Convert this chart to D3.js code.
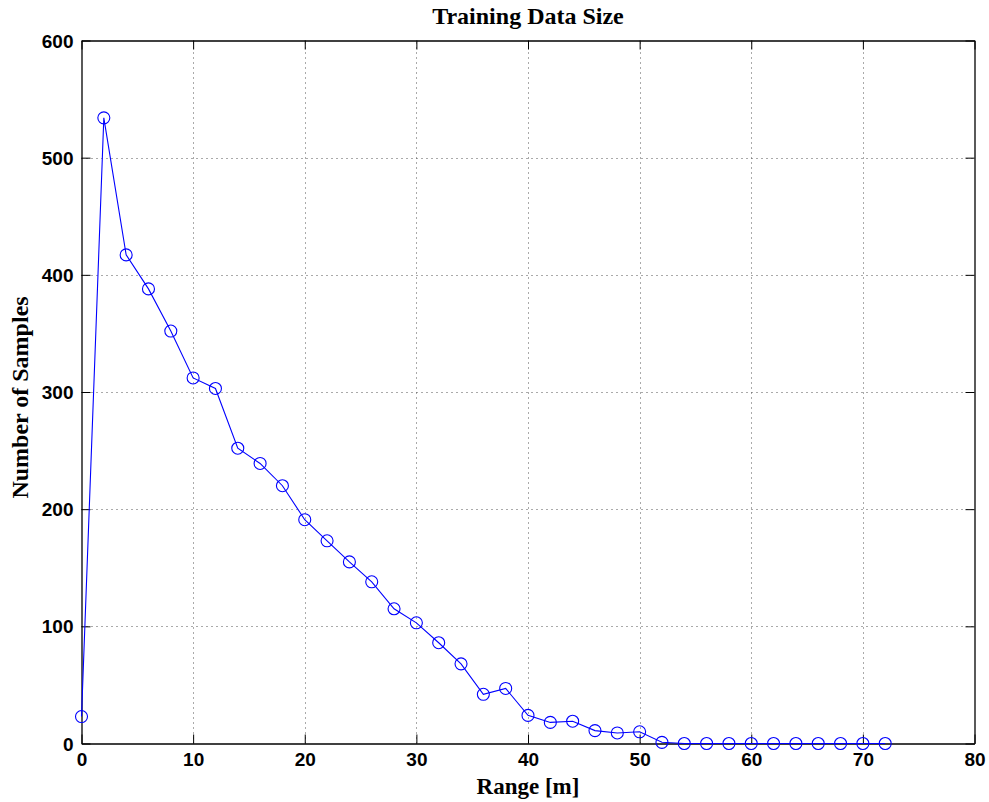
<!DOCTYPE html>
<html>
<head>
<meta charset="utf-8">
<script src="https://cdn.jsdelivr.net/npm/d3@7"></script>
<style>
  html, body { margin: 0; padding: 0; background: #fff; }
  svg { display: block; }
</style>
</head>
<body>
<svg id="chart" width="989" height="802"></svg>
<script>
// Range bins (m) and sample counts per bin
const rangeM = [0, 2, 4, 6, 8, 10, 12, 14, 16, 18, 20, 22, 24, 26, 28, 30, 32, 34, 36, 38,
                40, 42, 44, 46, 48, 50, 52, 54, 56, 58, 60, 62, 64, 66, 68, 70, 72];
const samples = [23, 534, 417, 388, 352, 312, 303, 252, 239, 220, 191, 173, 155, 138, 115, 103, 86, 68, 42, 47,
                 24, 18, 19, 11, 9, 10, 1, 0, 0, 0, 0, 0, 0, 0, 0, 0, 0];
const xTicks = [0, 10, 20, 30, 40, 50, 60, 70, 80];
const yTicks = [0, 100, 200, 300, 400, 500, 600];

const svg = d3.select("#chart");
const margin = { left: 81.5, right: 14.5, top: 40.5, bottom: 58.5 };
const W = 989, H = 802;
const x = d3.scaleLinear().domain([0, 80]).range([margin.left, W - margin.right]);
const y = d3.scaleLinear().domain([0, 600]).range([H - margin.bottom, margin.top]);

const tickFont = "'Liberation Sans', Arial, Helvetica, sans-serif";
const labelFont = "'Liberation Serif', 'Times New Roman', serif";

// Dotted grid
const grid = svg.append("g").attr("stroke", "#555").attr("stroke-width", 1)
  .attr("stroke-dasharray", "1,4");
grid.selectAll("line.vx").data(xTicks.slice(1, -1)).join("line")
  .attr("x1", d => Math.round(x(d)) + 0.5).attr("x2", d => Math.round(x(d)) + 0.5)
  .attr("y1", y(0)).attr("y2", y(600));
grid.selectAll("line.hy").data(yTicks.slice(1, -1)).join("line")
  .attr("y1", d => Math.round(y(d)) + 0.5).attr("y2", d => Math.round(y(d)) + 0.5)
  .attr("x1", x(0)).attr("x2", x(80));

// Axes with inward ticks on all four sides
const tl = 9;
const axB = svg.append("g").attr("transform", `translate(0,${y(0)})`)
  .call(d3.axisBottom(x).tickValues(xTicks).tickSizeInner(-tl).tickSizeOuter(0).tickPadding(9));
const axT = svg.append("g").attr("transform", `translate(0,${y(600)})`)
  .call(d3.axisTop(x).tickValues(xTicks).tickSizeInner(-tl).tickSizeOuter(0).tickFormat(""));
const axL = svg.append("g").attr("transform", `translate(${x(0)},0)`)
  .call(d3.axisLeft(y).tickValues(yTicks).tickSizeInner(-tl).tickSizeOuter(0).tickPadding(8));
const axR = svg.append("g").attr("transform", `translate(${x(80)},0)`)
  .call(d3.axisRight(y).tickValues(yTicks).tickSizeInner(-tl).tickSizeOuter(0).tickFormat(""));

[axB, axT, axL, axR].forEach(a => {
  a.select(".domain").attr("stroke", "#000").attr("stroke-width", 1.3);
  a.selectAll(".tick line").attr("stroke", "#000").attr("stroke-width", 1);
  a.selectAll(".tick text").attr("font-family", tickFont).attr("font-weight", "bold")
    .attr("font-size", 19).attr("fill", "#000");
});
axL.selectAll(".tick text").attr("dy", "0.35em");

// Data line and circle markers
const line = d3.line().x((d, i) => x(rangeM[i])).y(d => y(d));
svg.append("path").datum(samples).attr("d", line)
  .attr("fill", "none").attr("stroke", "#0000ff").attr("stroke-width", 1.1);
svg.append("g").selectAll("circle").data(samples).join("circle")
  .attr("cx", (d, i) => x(rangeM[i])).attr("cy", d => y(d)).attr("r", 6)
  .attr("fill", "none").attr("stroke", "#0000ff").attr("stroke-width", 1.1);

// Title and axis labels
svg.append("text").attr("x", x(40)).attr("y", 24).attr("text-anchor", "middle")
  .attr("font-family", labelFont).attr("font-weight", "bold").attr("font-size", 24)
  .text("Training Data Size");
svg.append("text").attr("x", x(40)).attr("y", 794).attr("text-anchor", "middle")
  .attr("font-family", labelFont).attr("font-weight", "bold").attr("font-size", 23)
  .text("Range [m]");
svg.append("text").attr("transform", `translate(28,${(293 + 502) / 2}) rotate(-90)`)
  .attr("text-anchor", "middle")
  .attr("font-family", labelFont).attr("font-weight", "bold").attr("font-size", 24)
  .text("Number of Samples");
</script>
</body>
</html>
